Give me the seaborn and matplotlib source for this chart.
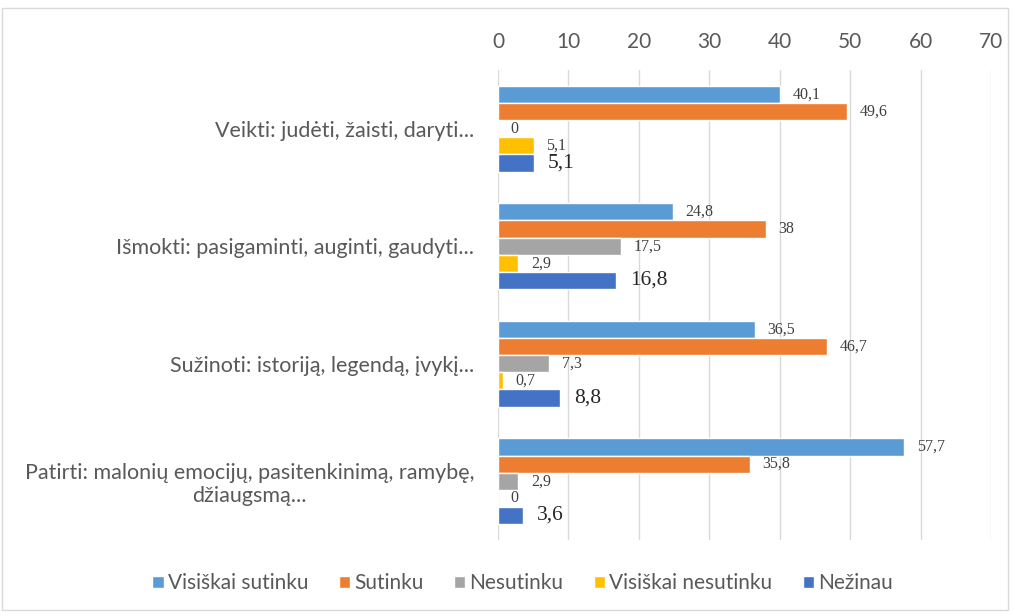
import matplotlib
matplotlib.use("Agg")
import matplotlib.pyplot as plt
import seaborn as sns
import pandas as pd
from matplotlib.patches import Rectangle

categories = [
    "Veikti: judėti, žaisti, daryti...",
    "Išmokti: pasigaminti, auginti, gaudyti...",
    "Sužinoti: istoriją, legendą, įvykį...",
    "Patirti: malonių emocijų, pasitenkinimą, ramybę,\ndžiaugsmą...",
]
series = ["Visiškai sutinku", "Sutinku", "Nesutinku", "Visiškai nesutinku", "Nežinau"]
visiskai_sutinku = [40.1, 24.8, 36.5, 57.7]
sutinku = [49.6, 38, 46.7, 35.8]
nesutinku = [0, 17.5, 7.3, 2.9]
visiskai_nesutinku = [5.1, 2.9, 0.7, 0]
nezinau = [5.1, 16.8, 8.8, 3.6]
x_ticks = [0, 10, 20, 30, 40, 50, 60, 70]
colors = ["#5B9BD5", "#ED7D31", "#A5A5A5", "#FFC000", "#4472C4"]

values = [visiskai_sutinku, sutinku, nesutinku, visiskai_nesutinku, nezinau]
rows = []
for s, vals in zip(series, values):
    for c, v in zip(categories, vals):
        rows.append({"cat": c, "series": s, "value": v})
df = pd.DataFrame(rows)

sns.set_style("white")
plt.rcParams["font.family"] = ["Lato", "DejaVu Sans"]

fig = plt.figure(figsize=(10.15, 6.16), dpi=100)
ax = fig.add_axes([0.4906, 0.1234, 0.4858, 0.7630])

sns.barplot(data=df, y="cat", x="value", hue="series", hue_order=series,
            order=categories, palette=colors, orient="h", width=0.73,
            saturation=1, ax=ax, legend=True)

ax.set_xlim(0, 70)
ax.set_xticks(x_ticks)
ax.xaxis.tick_top()
ax.tick_params(axis="x", length=0, labelsize=15, labelcolor="#595959", pad=13)
ax.tick_params(axis="y", length=0, labelsize=15.5, labelcolor="#595959", pad=17)
ax.set_xlabel("")
ax.set_ylabel("")
ax.grid(axis="x", color="#D9D9D9", linewidth=1)
ax.set_axisbelow(True)
for sp in ax.spines.values():
    sp.set_visible(False)

def fmt(v):
    return f"{v:g}".replace(".", ",")

for i, cont in enumerate(ax.containers):
    labels = [fmt(v) for v in values[i]]
    if i == 4:
        ax.bar_label(cont, labels=labels, padding=10, fontsize=15.5,
                     family="Liberation Serif", color="#262626")
    else:
        ax.bar_label(cont, labels=labels, padding=9, fontsize=11.5,
                     family="Liberation Serif", color="#404040")

handles, labs = ax.get_legend_handles_labels()
ax.get_legend().remove()
fig.legend(handles, labs, loc="center", bbox_to_anchor=(0.515, 0.053), ncol=5,
           frameon=False, fontsize=15, handlelength=0.55, handleheight=0.55,
           handletextpad=0.2, columnspacing=1.45, labelcolor="#595959")

fig.patches.append(Rectangle((0.002, 0.01), 0.991, 0.977, transform=fig.transFigure,
                             fill=False, edgecolor="#D9D9D9", linewidth=1))

fig.canvas.draw()
for lab in ax.get_yticklabels():
    lab.set_multialignment("center")

fig.savefig("out.png", dpi=100)
